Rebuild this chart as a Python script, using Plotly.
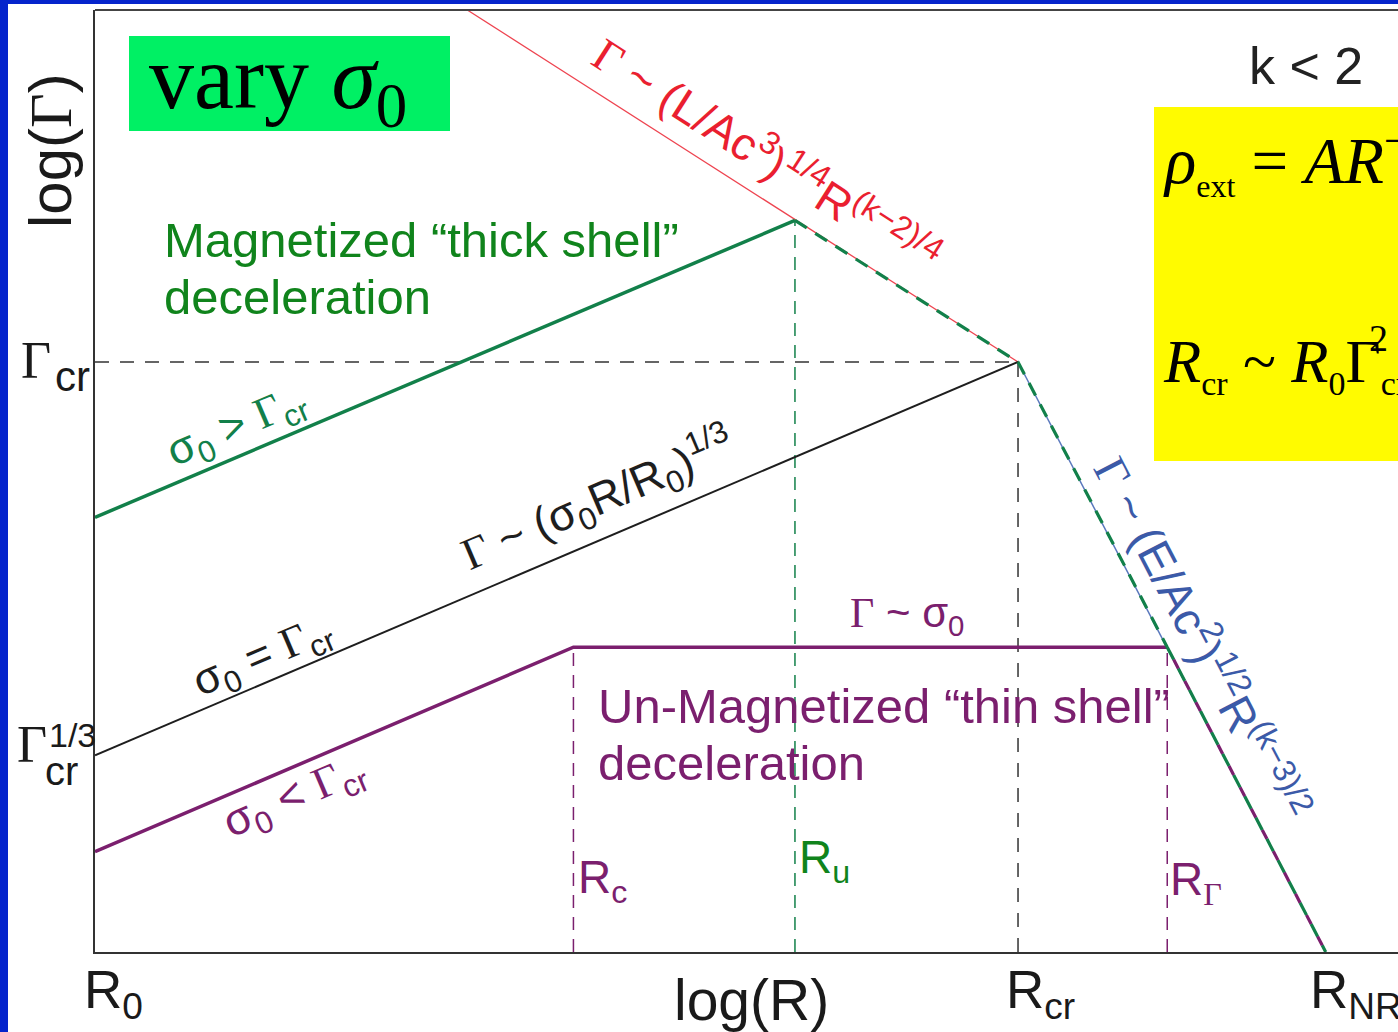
import plotly.graph_objects as go

# ---------------- data (log units: x = log(R/R0), y = log Γ) ----------------
x_range = [0.0, 8.47]
y_range = [0.0, 4.79]

thick_x = [0.0, 4.55]            # σ0 > Γcr  (magnetized thick shell)
thick_y = [2.21, 3.72]
crit_x = [0.0, 6.0]              # σ0 = Γcr
crit_y = [1.0, 3.0]
thin_x = [0.0, 3.11, 6.97]       # σ0 < Γcr  (un-magnetized thin shell)
thin_y = [0.51, 1.55, 1.55]
red_x = [2.42, 6.0]              # Γ ~ (L/Ac3)^1/4 R^(k-2)/4
red_y = [4.79, 3.0]
blue_x = [6.0, 8.0]              # Γ ~ (E/Ac2)^1/2 R^(k-3)/2
blue_y = [3.0, 0.0]
thick_tail_x = [4.55, 6.0, 6.97]
thick_tail_y = [3.72, 3.0, 1.55]
common_tail_x = [6.97, 8.0]
common_tail_y = [1.55, 0.0]

log_gamma_cr = 3.0
R_cr = 6.0
R_u = 4.55
R_c = 3.11
R_G = 6.97
gamma_thin = 1.55
gamma_u = 3.72

# ---------------- styling ----------------
W, H = 1398, 1032
ML, MR, MT, MB = 95, 0, 10, 80
PW, PH = W - ML - MR, H - MT - MB
SANS = "Liberation Sans, Arial, sans-serif"
SERIF = "Liberation Serif, Times New Roman, serif"
GREEN_L = "#12804a"
GREEN_T = "#10841c"
PURPLE = "#7b1f6e"
RED_L = "#ee4450"
RED_T = "#ea1f30"
BLUE_L = "#5a78bd"
BLUE_T = "#3b5aa8"
BLACK = "#1e1e1e"
BORDER = "#0524cc"


def px(xp):
    return (xp - ML) / PW


def py(yp):
    return (H - MB - yp) / PH


def G():
    return '<span style="font-family:Liberation Serif">Γ</span>'


def S(txt, size):
    return '<span style="font-size:%dpx">%s</span>' % (size, txt)


fig = go.Figure()


def line(x, y, color, width, dash="solid"):
    fig.add_trace(go.Scatter(x=x, y=y, mode="lines", hoverinfo="skip",
                             showlegend=False,
                             line=dict(color=color, width=width, dash=dash)))


# guides
line([0, R_cr], [log_gamma_cr, log_gamma_cr], "#333333", 1.5, "14px,11px")
line([R_cr, R_cr], [0, log_gamma_cr], "#333333", 1.5, "14px,11px")
line([R_u, R_u], [0, gamma_u], GREEN_L, 1.5, "13px,9px")
line([R_c, R_c], [0, gamma_thin], PURPLE, 1.5, "13px,9px")
line([R_G, R_G], [0, gamma_thin], PURPLE, 1.5, "13px,9px")

# asymptotes
line(red_x, red_y, RED_L, 1.3)
line(blue_x, blue_y, BLUE_L, 1.5)
line(crit_x, crit_y, BLACK, 2.0)
line(thick_x, thick_y, GREEN_L, 3.5)
line(thin_x, thin_y, PURPLE, 3.5)
line(thick_tail_x, thick_tail_y, GREEN_L, 3.2, "14px,10px")
line(common_tail_x, common_tail_y, GREEN_L, 3.2, "14px,10px")
line(common_tail_x, common_tail_y, PURPLE, 3.2, "0px,14px,10px,0px")

ann = []


def A(text, xp, yp, size, color=BLACK, family=SANS, angle=0, xa="center", ya="middle"):
    ann.append(dict(text=text, x=px(xp), y=py(yp), xref="paper", yref="paper",
                    showarrow=False, xanchor=xa, yanchor=ya, textangle=angle,
                    font=dict(size=size, color=color, family=family)))


# axis labels
A("log(" + G() + ")", 51, 151, 60, "#1a1a1a", angle=-90)
A("log(R)", 751, 1000, 57, "#1a1a1a")
A("R<sub>0</sub>", 113, 993, 53, "#1a1a1a")
A("R<sub>cr</sub>", 1040, 993, 53, "#1a1a1a")
A("R<sub>NR</sub>", 1308, 993, 53, "#1a1a1a", xa="left")

# y labels
A("Γ", 36, 360, 52, "#1a1a1a", family=SERIF)
A("cr", 72, 376, 42, "#1a1a1a")
A("Γ", 32, 745, 52, "#1a1a1a", family=SERIF)
A("1/3", 72, 735, 34, "#1a1a1a")
A("cr", 61, 771, 40, "#1a1a1a")

# title box
A("vary <i>σ</i><sub>0</sub>", 278, 85, 90, "#000000", family=SERIF)

# regime captions
A("Magnetized “thick shell”", 162, 240, 49, GREEN_T, xa="left")
A("deceleration", 162, 297, 49, GREEN_T, xa="left")
A("Un-Magnetized “thin shell”", 596, 706, 49, PURPLE, xa="left")
A("deceleration", 596, 763, 49, PURPLE, xa="left")

# line labels
A("σ<sub>0</sub> > " + G() + "<sub>cr</sub>", 237, 427, 44, GREEN_L, angle=-23.1)
A("σ<sub>0</sub> = " + G() + "<sub>cr</sub>", 263, 657, 44, BLACK, angle=-23.1)
A(G() + " ~ (σ<sub>0</sub>R/R<sub>0</sub>)<sup>1/3</sup>", 597, 499, 45, BLACK, angle=-23.1)
A("σ<sub>0</sub> < " + G() + "<sub>cr</sub>", 294, 797, 45, PURPLE, angle=-23.1)
A(G() + " ~ σ<sub>0</sub>", 907, 615, 42, PURPLE)
A(G() + " ~ (L/Ac<sup>3</sup>)<sup>1/4</sup>R<sup>(k−2)/4</sup>", 767, 154, 46, RED_T, angle=32.6)
A(G() + " ~ (E/Ac<sup>2</sup>)<sup>1/2</sup>R<sup>(k−3)/2</sup>", 1203, 638, 46, BLUE_T, angle=62.5)

# radius markers
A("R<sub>c</sub>", 576, 880, 46, PURPLE, xa="left")
A("R<sub>u</sub>", 797, 860, 46, GREEN_T, xa="left")
A("R<sub>" + G() + "</sub>", 1168, 882, 46, PURPLE, xa="left")

# right panel
A("k < 2", 1306, 66, 52, "#222222")
A("<i>ρ</i><sub>" + S("ext", 32) + "</sub> = <i>AR</i><sup>−<i>k</i></sup>",
  1161, 160, 65, "#000000", family=SERIF, xa="left")
A("<i>R</i><sub>" + S("cr", 34) + "</sub> ~ <i>R</i><sub>" + S("0", 34) + "</sub>Γ<sub>" + S("cr", 34) + "</sub>",
  1161, 365, 61, "#000000", family=SERIF, xa="left")
A("2", 1378, 338, 38, "#000000", family=SERIF)

shapes = [
    # blue slide frame
    dict(type="rect", xref="paper", yref="paper", x0=px(-5), x1=px(8), y0=py(H + 5), y1=py(-5),
         fillcolor=BORDER, line=dict(width=0), layer="below"),
    dict(type="rect", xref="paper", yref="paper", x0=px(-5), x1=px(W + 5), y0=py(4), y1=py(-5),
         fillcolor=BORDER, line=dict(width=0), layer="below"),
    # top frame line
    dict(type="line", xref="paper", yref="paper", x0=0, x1=px(W + 5), y0=1, y1=1,
         line=dict(color="#444444", width=2)),
    # green title box
    dict(type="rect", xref="paper", yref="paper", x0=px(129), x1=px(450), y0=py(131), y1=py(36),
         fillcolor="#00f064", line=dict(width=0), layer="below"),
    # yellow equations box
    dict(type="rect", xref="paper", yref="paper", x0=px(1154), x1=px(W + 20), y0=py(461), y1=py(107),
         fillcolor="#fffb00", line=dict(width=0), layer="below"),
]

fig.update_layout(
    width=W, height=H,
    margin=dict(l=ML, r=MR, t=MT, b=MB, pad=0),
    paper_bgcolor="white", plot_bgcolor="white",
    showlegend=False,
    annotations=ann, shapes=shapes,
    xaxis=dict(range=x_range, showgrid=False, zeroline=False, showticklabels=False,
               ticks="", showline=True, linecolor="#333333", linewidth=2, fixedrange=True),
    yaxis=dict(range=y_range, showgrid=False, zeroline=False, showticklabels=False,
               ticks="", showline=True, linecolor="#333333", linewidth=2, fixedrange=True),
)

fig.write_html("out.html", config={"displayModeBar": False})
